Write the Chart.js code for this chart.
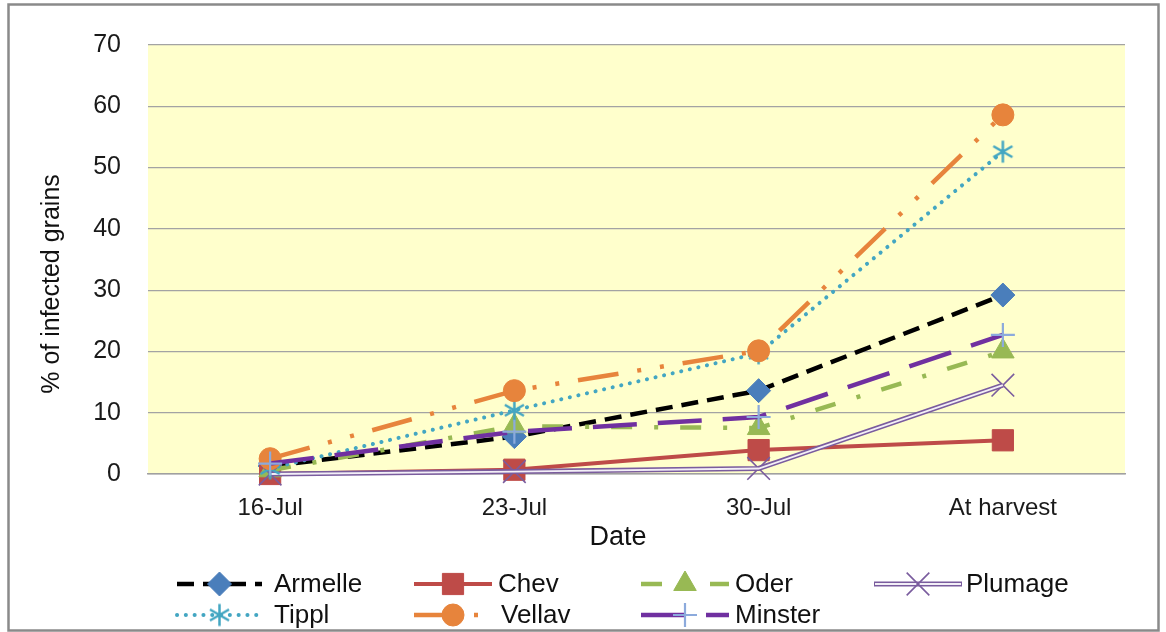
<!DOCTYPE html>
<html>
<head>
<meta charset="utf-8">
<script src="https://cdn.jsdelivr.net/npm/chart.js@4.4.1/dist/chart.umd.min.js"></script>
<style>
  html, body { margin: 0; padding: 0; background: #ffffff; }
  #wrap { width: 1166px; height: 632px; position: relative; }
  canvas { display: block; }
</style>
</head>
<body>
<div id="wrap"><canvas id="chart" width="1166" height="632"></canvas></div>
<script>
// Sampling dates and % of infected grains per variety
const dates   = ['16-Jul', '23-Jul', '30-Jul', 'At harvest'];
const armelle = [1.3, 6.1, 13.6, 29.2];
const chev    = [0, 0.7, 3.9, 5.5];
const oder    = [0.6, 7.8, 7.5, 20.0];
const plumage = [0, 0.4, 0.9, 14.5];
const tippl   = [0.9, 10.4, 19.7, 52.6];
const vellav  = [2.5, 13.6, 20.1, 58.6];
const minster = [1.7, 6.9, 9.3, 22.7];
const yTicks  = [0, 10, 20, 30, 40, 50, 60, 70];

const FONT = "'Liberation Sans', Arial, sans-serif";

// Six-spoke asterisk marker
function asterisk(color, r, w) {
  const c = document.createElement('canvas');
  const s = Math.ceil(2 * r + w + 2);
  c.width = c.height = s;
  const g = c.getContext('2d');
  g.strokeStyle = color;
  g.lineWidth = w;
  const m = s / 2;
  g.beginPath();
  [90, 30, -30].forEach(a => {
    const t = a * Math.PI / 180;
    const dx = Math.cos(t) * r, dy = Math.sin(t) * r;
    g.moveTo(m - dx, m - dy);
    g.lineTo(m + dx, m + dy);
  });
  g.stroke();
  return c;
}

const C = {
  armelleLine: '#000000', armelleMark: '#4A7EBB',
  chev: '#BE4B48',
  oder: '#98B954',
  plumage: '#7A5C9E', plumageInner: '#F3EFF7',
  tippl: '#43A6C2',
  vellav: '#E7843C',
  minsterLine: '#7030A0', minsterMark: '#8CAADC'
};

const datasets = [
  { label: 'Armelle', data: armelle, borderColor: C.armelleLine, borderWidth: 4.5,
    borderDash: [17, 9], pointStyle: 'rectRot', pointRadius: 12,
    pointBackgroundColor: C.armelleMark, pointBorderColor: C.armelleMark, pointBorderWidth: 1, order: 10 },
  { label: 'Chev', data: chev, borderColor: C.chev, borderWidth: 4,
    pointStyle: 'rect', pointRadius: 15,
    pointBackgroundColor: C.chev, pointBorderColor: C.chev, pointBorderWidth: 1, order: 9 },
  { label: 'Oder', data: oder, borderColor: C.oder, borderWidth: 4.5,
    borderDash: [21, 22, 4, 22], pointStyle: 'triangle', pointRadius: 13,
    pointBackgroundColor: C.oder, pointBorderColor: C.oder, pointBorderWidth: 1, order: 8 },
  { label: 'Plumage', data: plumage, borderColor: C.plumage, borderWidth: 5,
    pointStyle: 'crossRot', pointRadius: 16,
    pointBackgroundColor: C.plumage, pointBorderColor: C.plumage, pointBorderWidth: 1.6, order: 7 },
  { label: 'Plumage', legendHidden: true, data: plumage, borderColor: C.plumageInner, borderWidth: 1.8,
    pointRadius: 0, order: 6.9 },
  { label: 'Tippl', data: tippl, borderColor: C.tippl, borderWidth: 4,
    borderDash: [0.1, 8.7], borderCapStyle: 'round', pointStyle: asterisk(C.tippl, 11, 2.5), pointRadius: 11,
    pointBackgroundColor: C.tippl, pointBorderColor: C.tippl, pointBorderWidth: 0, order: 6 },
  { label: 'Vellav', data: vellav, borderColor: C.vellav, borderWidth: 4.5,
    borderDash: [41, 19, 4, 19, 4, 19], pointStyle: 'circle', pointRadius: 11,
    pointBackgroundColor: C.vellav, pointBorderColor: C.vellav, pointBorderWidth: 1, order: 5 },
  { label: 'Minster', data: minster, borderColor: C.minsterLine, borderWidth: 4.5,
    borderDash: [44, 21], pointStyle: 'cross', pointRadius: 12,
    pointBackgroundColor: C.minsterMark, pointBorderColor: C.minsterMark, pointBorderWidth: 2.2, order: 4 }
];
datasets.forEach(d => { d.tension = 0; d.fill = false; d.clip = false; d.pointHoverRadius = d.pointRadius; });

// Legend grid: sample line span, text start and row centre for each entry
const legendSlots = [
  { x0: 177, x1: 262, tx: 274, y: 584 },
  { x0: 414, x1: 492, tx: 498, y: 584 },
  { x0: 641, x1: 729, tx: 735, y: 584 },
  { x0: 874, x1: 962, tx: 966, y: 584 },
  { x0: 177, x1: 262, tx: 274, y: 615 },
  { x0: 414, x1: 492, tx: 501, y: 615 },
  { x0: 641, x1: 729, tx: 735, y: 615 }
];

// Frame, plot background, axis titles and a grid-style legend
const decor = {
  id: 'decor',
  beforeDraw(chart) {
    const { ctx, chartArea: a } = chart;
    ctx.save();
    ctx.fillStyle = '#ffffff';
    ctx.fillRect(0, 0, chart.width, chart.height);
    ctx.fillStyle = '#FFFFCC';
    ctx.fillRect(a.left, a.top, a.right - a.left, a.bottom - a.top);
    ctx.strokeStyle = '#8a8a8a';
    ctx.lineWidth = 2.5;
    ctx.strokeRect(8.5, 4.5, 1150, 626);
    ctx.restore();
  },
  afterDraw(chart) {
    const { ctx } = chart;
    ctx.save();
    ctx.fillStyle = '#111111';
    ctx.textAlign = 'center';
    ctx.textBaseline = 'middle';
    ctx.font = '27px ' + FONT;
    ctx.fillText('Date', 618, 538);
    ctx.translate(52, 284);
    ctx.rotate(-Math.PI / 2);
    ctx.font = '25px ' + FONT;
    ctx.fillText('% of infected grains', 0, 0);
    ctx.restore();

    const shown = chart.data.datasets.filter(d => !d.legendHidden);
    shown.forEach((d, i) => {
      const s = legendSlots[i];
      ctx.save();
      ctx.strokeStyle = d.borderColor;
      ctx.lineWidth = d.borderWidth;
      ctx.lineCap = d.borderCapStyle || 'butt';
      ctx.setLineDash(d.borderDash || []);
      ctx.beginPath();
      ctx.moveTo(s.x0, s.y);
      ctx.lineTo(s.x1, s.y);
      ctx.stroke();
      if (d.label === 'Plumage') {
        ctx.strokeStyle = C.plumageInner;
        ctx.lineWidth = 1.8;
        ctx.beginPath();
        ctx.moveTo(s.x0 + 1, s.y);
        ctx.lineTo(s.x1 - 1, s.y);
        ctx.stroke();
      }
      ctx.setLineDash([]);
      ctx.lineCap = 'butt';
      ctx.fillStyle = d.pointBackgroundColor;
      ctx.strokeStyle = d.pointBorderColor;
      ctx.lineWidth = d.pointBorderWidth || 0;
      const mx = (s.x0 + s.x1) / 2;
      Chart.helpers.drawPoint(ctx, {
        pointStyle: d.pointStyle, radius: d.pointRadius, borderWidth: d.pointBorderWidth || 0, rotation: 0
      }, mx, s.y);
      ctx.fillStyle = '#111111';
      ctx.font = '26px ' + FONT;
      ctx.textAlign = 'left';
      ctx.textBaseline = 'middle';
      ctx.fillText(d.label, s.tx, s.y + 1);
      ctx.restore();
    });
  }
};

new Chart(document.getElementById('chart'), {
  type: 'line',
  data: { labels: dates, datasets: datasets },
  plugins: [decor],
  options: {
    responsive: false,
    animation: false,
    devicePixelRatio: 1,
    events: [],
    layout: { padding: { left: 0, top: 45, right: 41, bottom: 0 } },
    plugins: { legend: { display: false }, tooltip: { enabled: false }, title: { display: false } },
    scales: {
      x: {
        type: 'category',
        offset: true,
        grid: { display: false, drawTicks: false },
        border: { display: true, color: '#a0a0a0', width: 1.5 },
        ticks: { color: '#1a1a1a', font: { family: FONT, size: 24 }, padding: 20, maxRotation: 0, autoSkip: false },
        afterFit(scale) { scale.height = 158; }
      },
      y: {
        min: 0, max: 70,
        afterBuildTicks(scale) { scale.ticks = yTicks.map(v => ({ value: v })); },
        grid: { color: '#a3a3a3', lineWidth: 1.2, drawTicks: false },
        border: { display: false },
        ticks: { color: '#1a1a1a', font: { family: FONT, size: 25 }, padding: 27 },
        afterFit(scale) { scale.width = 148; }
      }
    }
  }
});
</script>
</body>
</html>
